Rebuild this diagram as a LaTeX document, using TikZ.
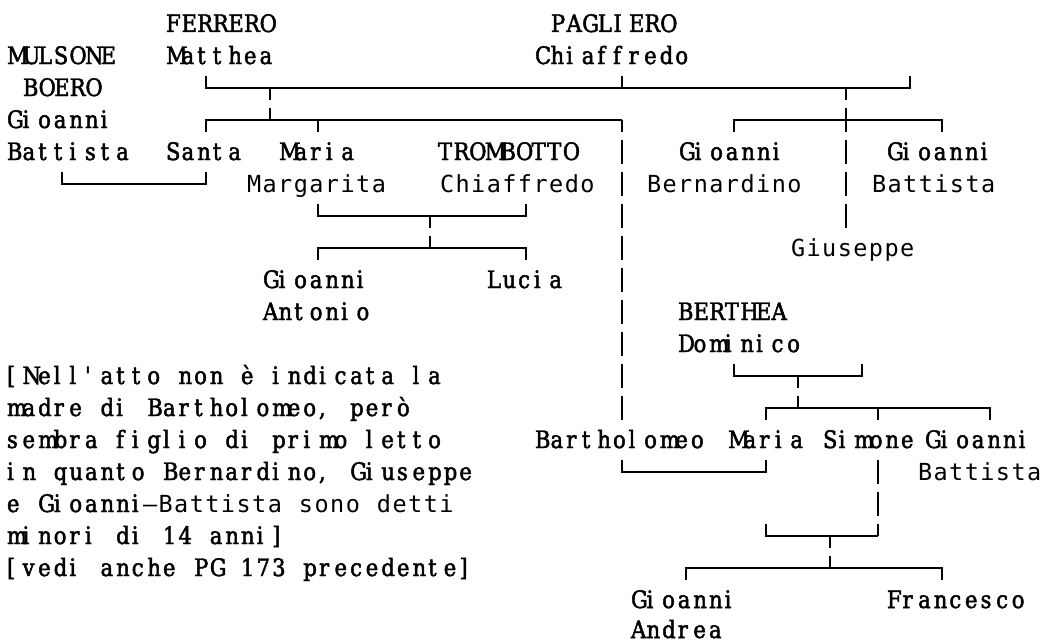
\documentclass[tikz,border=0pt]{standalone}
\usepackage{fontspec}
\newfontfamily\serf[FakeStretch=0.88,FakeBold=2,Ligatures=TeXOff]{DejaVu Serif}
\newfontfamily\sanf[Ligatures=TeXOff]{DejaVu Sans Mono}
\newlength\cw
\setlength\cw{15.6pt}
\def\grEnd{\grEnd}
\def\gr#1{\grA#1\grEnd}
\def\grA#1{\ifx#1\grEnd\else\makebox[\cw][l]{#1}\expandafter\grA\fi}
\tikzset{
  sr/.style={font=\serf\fontsize{24pt}{28pt}\selectfont, inner sep=0pt, outer sep=0pt, anchor=base west},
  ss/.style={font=\sanf\fontsize{23.5pt}{26pt}\selectfont, inner sep=0pt, outer sep=0pt, anchor=base west},
  ln/.style={line width=2pt},
  vln/.style={ln, dash pattern=on 24pt off 8pt, dash phase=12pt},
  vlnz/.style={ln, dash pattern=on 24pt off 8pt}
}
\begin{document}
\begin{tikzpicture}[x=1pt,y=-1pt]
\fill[white] (0,0) rectangle (1048,642);
\useasboundingbox (0,0) rectangle (1048,642);
% ---- text ----
\node[sr] (ferrero) at (166,32) {\gr{FERRERO}};
\node[sr] (pagliero) at (551,32) {\gr{PAGLIERO}};
\node[sr] (mulsone) at (7,64) {\gr{MULSONE}};
\node[sr] (matthea) at (166,64) {\gr{Matthea}};
\node[sr] (chiaf) at (535,64) {\gr{Chiaffredo}};
\node[sr] (boero) at (23,96) {\gr{BOERO}};
\node[sr] (gioB) at (7,128) {\gr{Gioanni}};
\node[sr] (battB) at (7,160) {\gr{Battista}};
\node[sr] (santa) at (166,160) {\gr{Santa}};
\node[sr] (mariaM) at (279,160) {\gr{Maria}};
\node[sr] (tromb) at (438,160) {\gr{TROMBOTTO}};
\node[sr] (gioBern) at (679,160) {\gr{Gioanni}};
\node[sr] (gioBatt) at (887,160) {\gr{Gioanni}};
\node[ss] (margarita) at (247,192) {\gr{Margarita}};
\node[ss] (chiafT) at (440,192) {\gr{Chiaffredo}};
\node[ss] (bern) at (647,192) {\gr{Bernardino}};
\node[ss] (battR) at (872,192) {\gr{Battista}};
\node[ss] (giuseppe) at (791,256) {\gr{Giuseppe}};
\node[sr] (gioAnt) at (263,288) {\gr{Gioanni}};
\node[sr] (lucia) at (487,288) {\gr{Lucia}};
\node[sr] (antonio) at (263,320) {\gr{Antonio}};
\node[sr] (berthea) at (678,320) {\gr{BERTHEA}};
\node[sr] (dominico) at (678,352) {\gr{Dominico}};
\node[sr] (note1) at (7,384) {\gr{[Nell'atto~non~è~indicata~la}};
\node[sr] (note2) at (7,416) {\gr{madre~di~Bartholomeo,~però}};
\node[sr] (note3) at (7,448) {\gr{sembra~figlio~di~primo~letto}};
\node[sr] (note4) at (7,480) {\gr{in~quanto~Bernardino,~Giuseppe}};
\node[sr] (note5a) at (7,512) {\gr{e~Gioanni}};
\node[ss] (note5b) at (143,512) {\gr{–Battista~sono~detti}};
\node[sr] (note6) at (7,544) {\gr{minori~di~14~anni]}};
\node[sr] (note7) at (7,576) {\gr{[vedi~anche~PG~173~precedente]}};
\node[sr] (bartho) at (535,448) {\gr{Bartholomeo}};
\node[sr] (mariaB) at (728,448) {\gr{Maria}};
\node[sr] (simone) at (823,448) {\gr{Simone}};
\node[sr] (gioBatt2) at (925,448) {\gr{Gioanni}};
\node[ss] (batt2) at (918,480) {\gr{Battista}};
\node[sr] (gioAnd) at (631,608) {\gr{Gioanni}};
\node[sr] (franc) at (887,608) {\gr{Francesco}};
\node[sr] (andrea) at (631,638) {\gr{Andrea}};
% ---- connector points ----
\coordinate (mA) at (206,75.5);
\coordinate (mB) at (910,75.5);
\coordinate (mC) at (622,75.5);
\coordinate (jA) at (270,87.5);
\coordinate (jB) at (846,87.5);
\coordinate (kA) at (270,107.5);
\coordinate (bL) at (206,131.5);
\coordinate (bR) at (622,119.5);
\coordinate (bM) at (318,119.5);
\coordinate (bEnd) at (622,419.5);
\coordinate (cL) at (734,131.5);
\coordinate (cR) at (942,119.5);
\coordinate (gEnd) at (846,227.5);
\coordinate (sL) at (62,171.5);
\coordinate (sR) at (206,183.5);
\coordinate (tL) at (318,203.5);
\coordinate (tR) at (526,215.5);
\coordinate (tM) at (430,215.5);
\coordinate (uM) at (430,235.5);
\coordinate (uL) at (318,259.5);
\coordinate (uR) at (526,247.5);
\coordinate (dL) at (734,363.5);
\coordinate (dR) at (862,375.5);
\coordinate (dM) at (798,375.5);
\coordinate (eM) at (798,395.5);
\coordinate (eL) at (766,419.5);
\coordinate (eR) at (990,407.5);
\coordinate (eS) at (878,407.5);
\coordinate (hL) at (622,459.5);
\coordinate (hR) at (766,471.5);
\coordinate (vS) at (878,459.5);
\coordinate (vE) at (878,535.5);
\coordinate (iL) at (766,523.5);
\coordinate (iM) at (830,535.5);
\coordinate (oM) at (830,555.5);
\coordinate (oL) at (686,579.5);
\coordinate (oR) at (942,567.5);
% ---- connectors ----
\draw[ln] (mA) -- ++(0,12) -| (mB);
\draw[ln] (mC) -- ++(0,12);
\draw[ln] (jA) -- ++(0,12);
\draw[ln] (kA) -- ++(0,12);
\draw[ln] (bL) |- (bR);
\draw[ln] (bM) -- ++(0,12);
\draw[vln] (bR) -- (bEnd);
\draw[ln] (cL) |- (cR) -- ++(0,12);
\draw[vln] (jB) -- (gEnd);
\draw[ln] (sL) |- (sR) -- ++(0,-12);
\draw[ln] (tL) |- (tR) -- ++(0,-12);
\draw[ln] (tM) -- ++(0,12);
\draw[ln] (uM) -- ++(0,12);
\draw[ln] (uL) |- (uR) -- ++(0,12);
\draw[ln] (dL) |- (dR) -- ++(0,-12);
\draw[ln] (dM) -- ++(0,12);
\draw[ln] (eM) -- ++(0,12);
\draw[ln] (eL) |- (eR) -- ++(0,12);
\draw[ln] (eS) -- ++(0,12);
\draw[ln] (hL) |- (hR) -- ++(0,-12);
\draw[vlnz] (vS) -- (vE);
\draw[ln] (iL) |- (vE);
\draw[ln] (iM) -- ++(0,12);
\draw[ln] (oM) -- ++(0,12);
\draw[ln] (oL) |- (oR) -- ++(0,12);
\end{tikzpicture}
\end{document}
